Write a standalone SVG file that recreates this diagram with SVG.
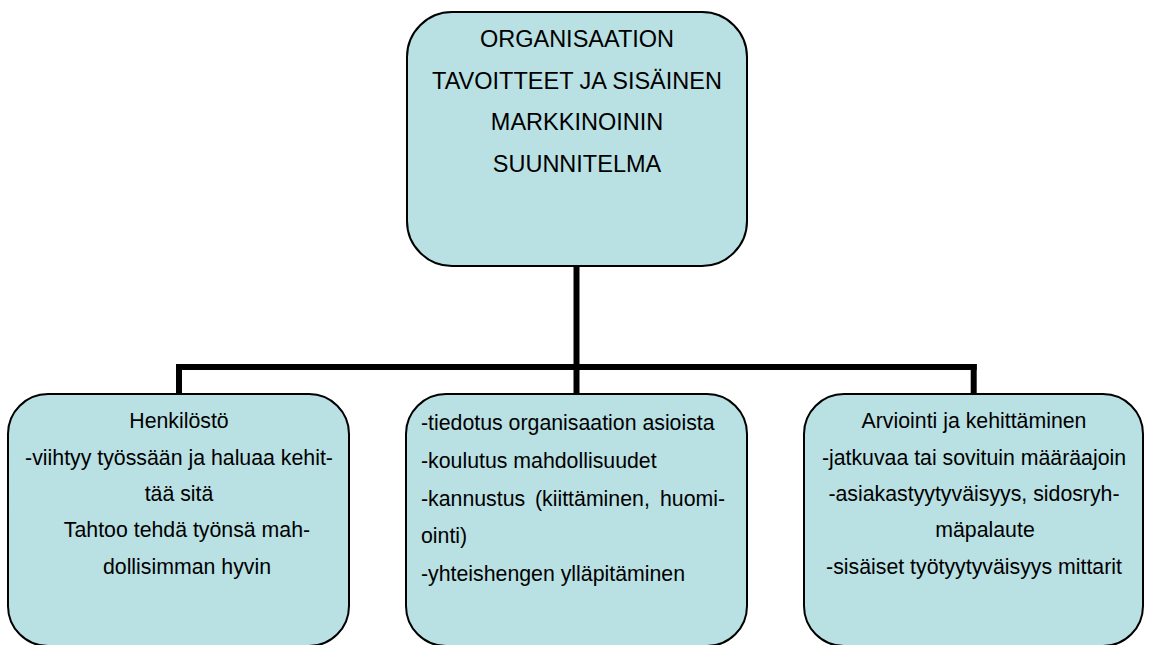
<svg xmlns="http://www.w3.org/2000/svg" width="1149" height="645" viewBox="0 0 1149 645">
<style>
.box{fill:#B9E0E3;stroke:#000;stroke-width:2}
.t{font-family:"Liberation Sans",Arial,sans-serif;font-size:23.5px;fill:#000;text-anchor:middle}
.s{font-family:"Liberation Sans",Arial,sans-serif;font-size:21.3px;fill:#000}
.c{text-anchor:middle}
.conn{stroke:#000;stroke-width:6;fill:none}
</style>
<rect width="1149" height="645" fill="#fff"/>
<g id="connectors">
<line class="conn" x1="576.5" y1="266" x2="576.5" y2="367"/>
<line class="conn" x1="176" y1="367" x2="976.7" y2="367"/>
<line class="conn" x1="179" y1="364" x2="179" y2="394"/>
<line class="conn" x1="576.5" y1="367" x2="576.5" y2="394"/>
<line class="conn" x1="973.7" y1="364" x2="973.7" y2="394"/>
</g>
<g id="top">
<rect class="box" x="407" y="12" width="340" height="254" rx="45" ry="45"/>
<text class="t" x="577" y="47">ORGANISAATION</text>
<text class="t" x="577" y="88.5">TAVOITTEET JA SISÄINEN</text>
<text class="t" x="577" y="130">MARKKINOININ</text>
<text class="t" x="577" y="171.5">SUUNNITELMA</text>
</g>
<g id="left">
<rect class="box" x="8" y="394" width="341" height="252" rx="40" ry="40"/>
<text class="s c" x="179" y="428">Henkilöstö</text>
<text class="s c" x="179" y="465">-viihtyy työssään ja haluaa kehit-</text>
<text class="s c" x="179" y="501">tää sitä</text>
<text class="s c" x="187" y="537">Tahtoo tehdä työnsä mah-</text>
<text class="s c" x="187" y="574">dollisimman hyvin</text>
</g>
<g id="middle">
<rect class="box" x="406" y="394" width="341" height="252" rx="40" ry="40"/>
<text class="s" x="421" y="430">-tiedotus organisaation asioista</text>
<text class="s" x="421" y="468">-koulutus mahdollisuudet</text>
<text class="s" y="506"><tspan x="421">-kannustus</tspan><tspan x="535">(kiittäminen,</tspan><tspan x="660">huomi-</tspan></text>
<text class="s" x="421" y="543">ointi)</text>
<text class="s" x="421" y="581">-yhteishengen ylläpitäminen</text>
</g>
<g id="right">
<rect class="box" x="804" y="394" width="339" height="252" rx="40" ry="40"/>
<text class="s c" x="974" y="428">Arviointi ja kehittäminen</text>
<text class="s c" x="974" y="465">-jatkuvaa tai sovituin määräajoin</text>
<text class="s c" x="974" y="501">-asiakastyytyväisyys, sidosryh-</text>
<text class="s c" x="985" y="537">mäpalaute</text>
<text class="s c" x="974" y="574">-sisäiset työtyytyväisyys mittarit</text>
</g>
</svg>
